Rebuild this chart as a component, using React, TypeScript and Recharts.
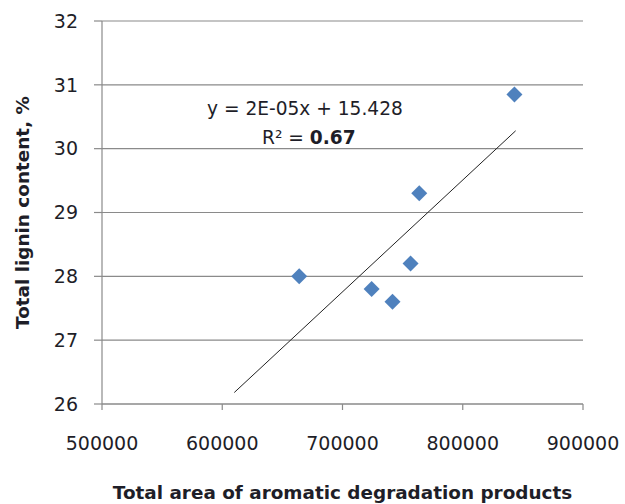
import React from "react";
import {
  ScatterChart,
  Scatter,
  XAxis,
  YAxis,
  CartesianGrid,
} from "recharts";

// Observed data points
const areaValues = [664000, 724200, 741600, 756600, 763800, 843000];
const ligninValues = [28.0, 27.8, 27.6, 28.2, 29.3, 30.85];

// Linear trendline endpoints (as drawn in the reference)
const trendArea = [610000, 844000];
const trendLignin = [26.18, 30.28];

// Axis ticks
const xTicks = [500000, 600000, 700000, 800000, 900000];
const yTicks = [26, 27, 28, 29, 30, 31, 32];

const equationText = "y = 2E-05x + 15.428";
const r2Label = "R² = ";
const r2Value = "0.67";

const points = areaValues.map((x, i) => ({ x, y: ligninValues[i] }));
const trend = trendArea.map((x, i) => ({ x, y: trendLignin[i] }));

const GRID = "#8a8a8a";
const TEXT = "#1e1e28";
const FONT = "'DejaVu Sans', Verdana, sans-serif";

const Diamond = (props: any) => {
  const { cx, cy } = props;
  if (cx == null || cy == null) return <g />;
  const r = 8;
  return (
    <polygon
      points={`${cx},${cy - r} ${cx + r},${cy} ${cx},${cy + r} ${cx - r},${cy}`}
      fill="#4F81BD"
    />
  );
};

const NoShape = () => <g />;

export default function App() {
  return (
    <div style={{ position: "absolute", left: 0, top: 0, width: 625, height: 504, background: "#fff" }}>
      <ScatterChart
        width={625}
        height={504}
        margin={{ top: 21, right: 42, bottom: 40, left: 0 }}
      >
        <CartesianGrid horizontal={true} vertical={false} stroke={GRID} strokeWidth={1.2} />
        <XAxis
          type="number"
          dataKey="x"
          domain={[500000, 900000]}
          ticks={xTicks}
          height={60}
          tickSize={6}
          tickMargin={27}
          stroke={GRID}
          axisLine={{ stroke: GRID, strokeWidth: 1.2 }}
          tickLine={{ stroke: GRID, strokeWidth: 1.2 }}
          tick={{ fontSize: 19, fill: TEXT, fontFamily: FONT }}
          allowDataOverflow
          label={{
            value: "Total area of aromatic degradation products",
            position: "bottom",
            offset: 22,
            style: { fontSize: 18.4, fontWeight: "bold", fill: TEXT, fontFamily: FONT },
          }}
        />
        <YAxis
          type="number"
          dataKey="y"
          domain={[26, 32]}
          ticks={yTicks}
          width={102}
          tickSize={8}
          tickMargin={16}
          axisLine={{ stroke: GRID, strokeWidth: 1.2 }}
          tickLine={{ stroke: GRID, strokeWidth: 1.2 }}
          tick={{ fontSize: 19, fill: TEXT, fontFamily: FONT }}
          allowDataOverflow
          label={{
            value: "Total lignin content, %",
            angle: -90,
            position: "insideLeft",
            offset: 22,
            style: { fontSize: 18.4, fontWeight: "bold", fill: TEXT, fontFamily: FONT, textAnchor: "middle" },
          }}
        />
        <Scatter
          data={trend}
          line={{ stroke: "#222", strokeWidth: 1 }}
          shape={NoShape}
          isAnimationActive={false}
        />
        <Scatter data={points} shape={Diamond} isAnimationActive={false} />
      </ScatterChart>
      <svg
        width={625}
        height={504}
        style={{ position: "absolute", left: 0, top: 0, pointerEvents: "none" }}
      >
        <text x={207} y={115} fontSize={18.6} fill={TEXT} fontFamily={FONT}>
          {equationText}
        </text>
        <text x={262} y={144} fontSize={18.6} fill={TEXT} fontFamily={FONT}>
          <tspan>{r2Label}</tspan>
          <tspan fontWeight="bold">{r2Value}</tspan>
        </text>
      </svg>
    </div>
  );
}
